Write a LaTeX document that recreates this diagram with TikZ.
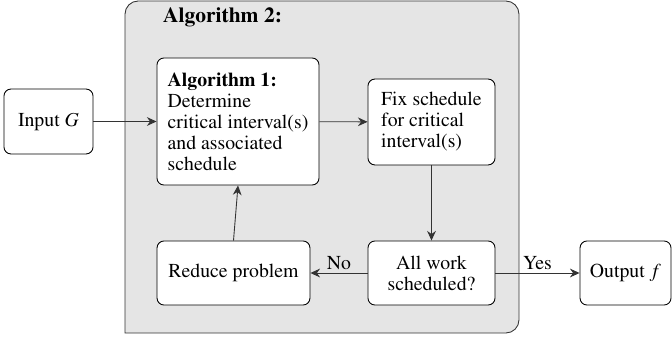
\documentclass[tikz,border=0pt]{standalone}
\usepackage[T1]{fontenc}
\usepackage{mathptmx}
\usetikzlibrary{arrows.meta}
\begin{document}
\begin{tikzpicture}[x=0.5714pt,y=-0.5714pt,
  box/.style={draw=black, line width=0.5pt, rounded corners=4pt, fill=white, inner sep=0pt, font=\fontsize{11.3}{12}\selectfont},
  conn/.style={line width=0.5pt, draw=black!80, -{Stealth[length=5.5pt,width=5pt,inset=1.8pt]}},
  lbl/.style={font=\fontsize{11.3}{12}\selectfont, inner sep=1.5pt}]
\useasboundingbox (0,0) rectangle (672,339);
% outer gray container
\filldraw[fill=black!10, draw=black!80, line width=0.5pt]
  (125,333) -- (125,13) [rounded corners=7.5pt] -- (125,1) -- (519,1) -- (519,333) [sharp corners] -- (125,333) -- cycle;
\node[font=\fontsize{12.3}{14}\selectfont\bfseries, inner sep=0pt] (alg2) at (222.5,17) {Algorithm 2:};
\node[box, minimum width=50.9pt, minimum height=37.1pt] (in) at (48.5,121.5) {Input $G$};
\node[box, minimum width=92.6pt, minimum height=72.6pt, align=left] (a1) at (238,121.5)
  {\textbf{Algorithm 1:}\\Determine\\critical interval(s)\\and associated\\schedule};
\node[box, minimum width=72.6pt, minimum height=49.1pt, align=left] (fix) at (431.5,122)
  {Fix schedule\\for critical\\interval(s)};
\node[box, minimum width=72.6pt, minimum height=36.6pt, align=center] (all) at (431.5,273)
  {All work\\scheduled?};
\node[box, minimum width=87.4pt, minimum height=36.6pt] (red) at (233.5,273) {Reduce problem};
\node[box, minimum width=52pt, minimum height=36.6pt] (out) at (625.5,273) {Output $f$};
\draw[conn] (in) -- (a1);
\draw[conn] (a1) -- (fix);
\draw[conn] (fix) -- (all);
\draw[conn] (all) -- node[lbl, above] {No} (red);
\draw[conn] (all) -- node[lbl, above] {Yes} (out);
\draw[conn] (red.north) -- (a1.south);
\end{tikzpicture}
\end{document}
